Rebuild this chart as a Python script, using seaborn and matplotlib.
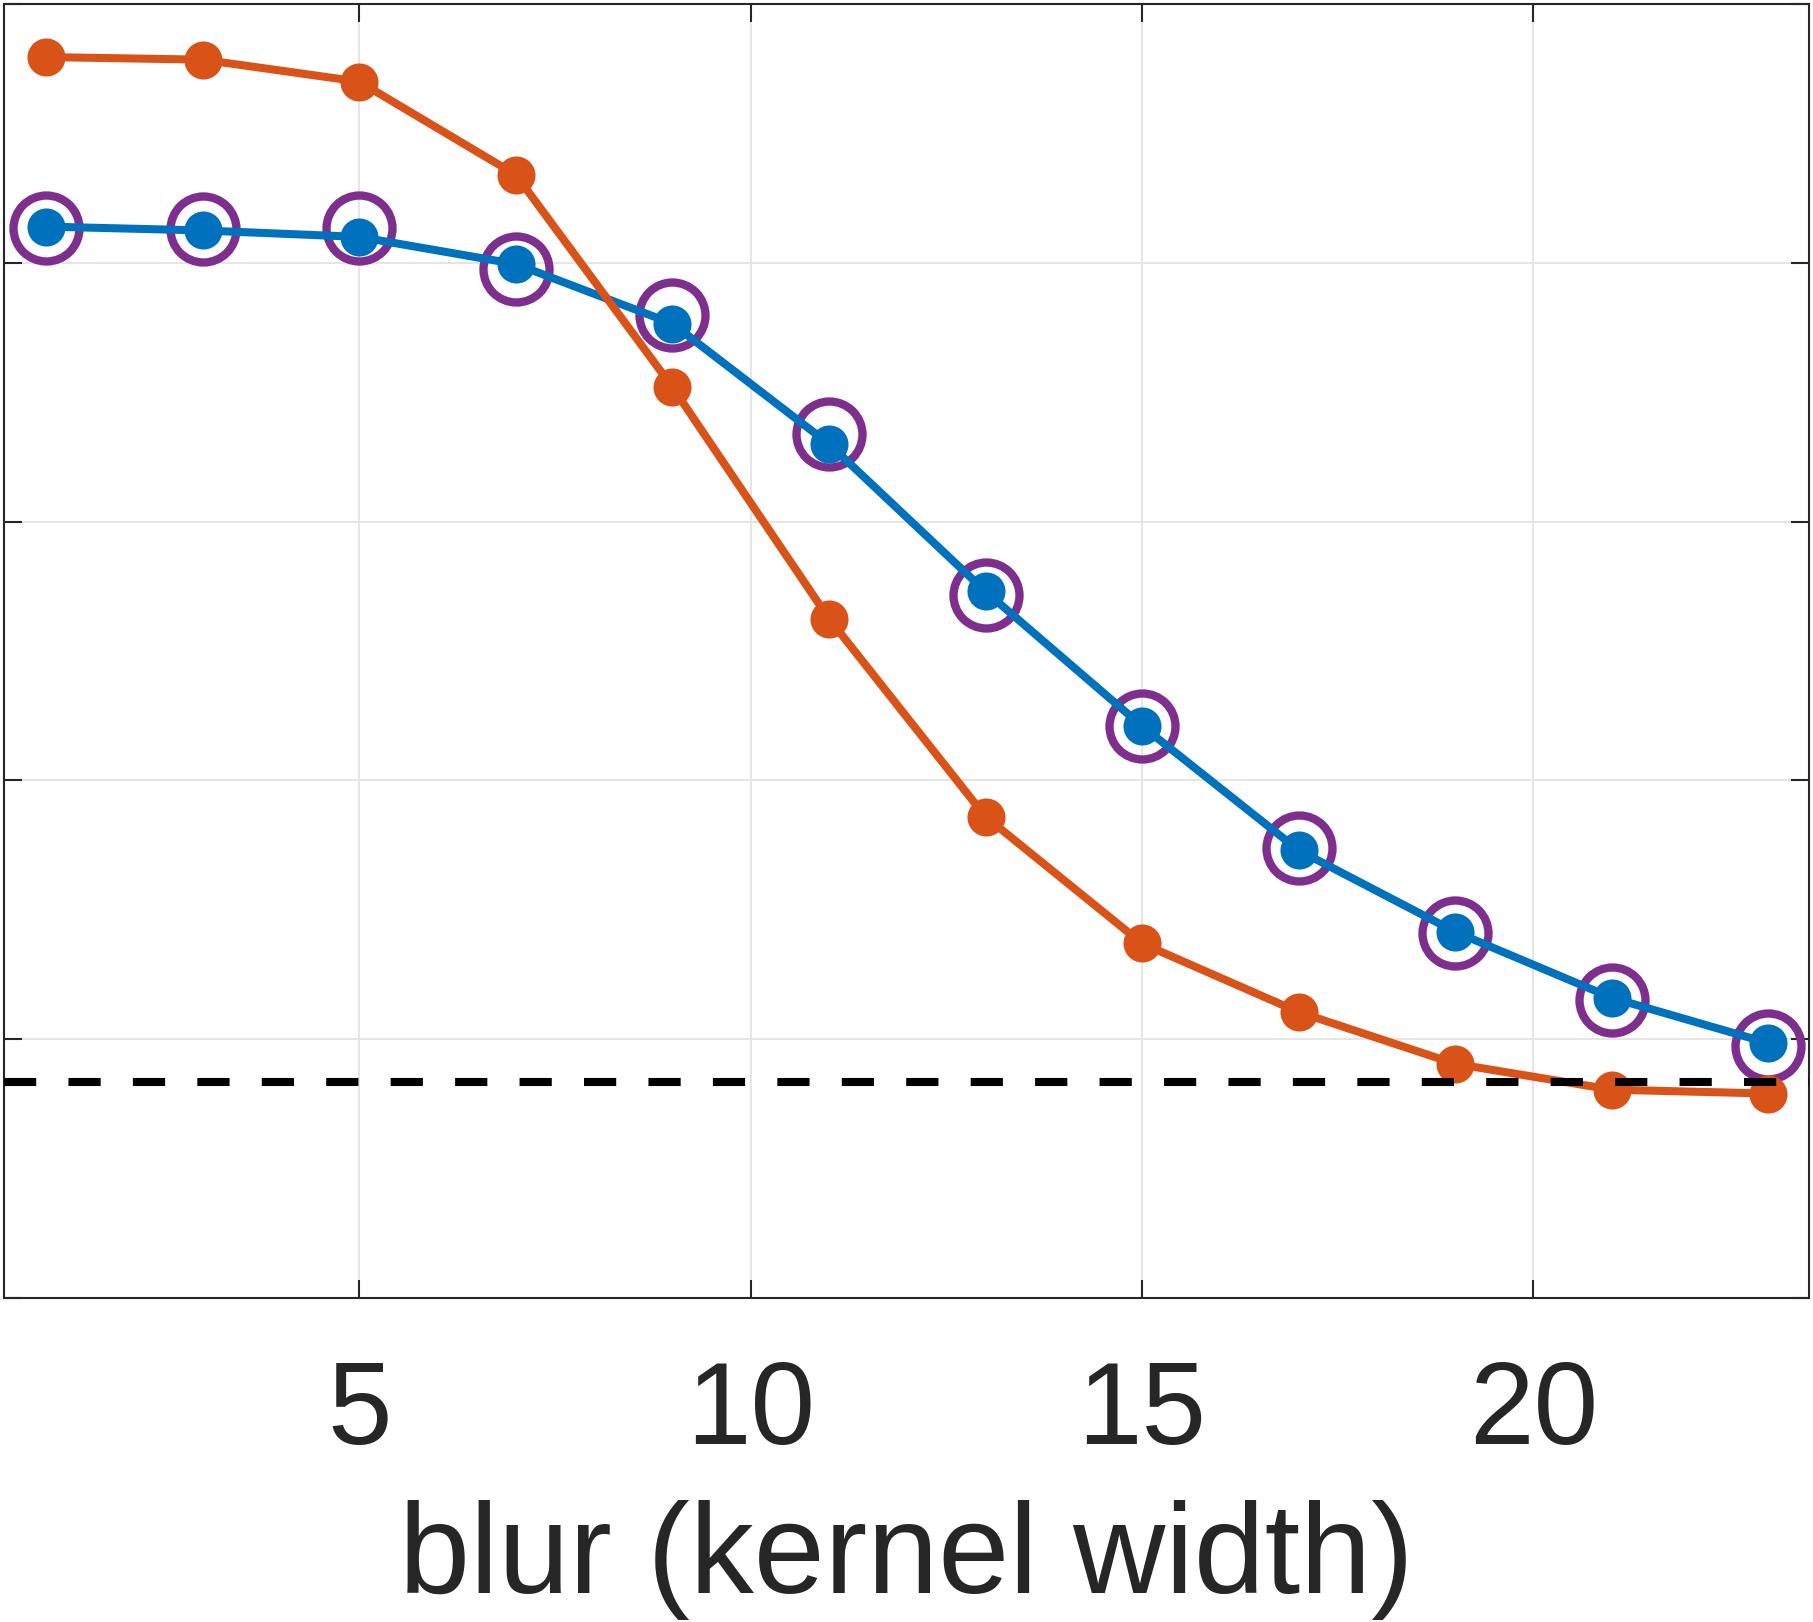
import matplotlib
matplotlib.use("Agg")
import matplotlib.pyplot as plt
import seaborn as sns
import pandas as pd

# values
kernel_width = [1, 3, 5, 7, 9, 11, 13, 15, 17, 19, 21, 23]
orange_acc = [0.959, 0.957, 0.940, 0.868, 0.704, 0.525, 0.372, 0.274, 0.221, 0.181, 0.161, 0.158]
blue_acc = [0.828, 0.825, 0.820, 0.799, 0.753, 0.660, 0.546, 0.442, 0.346, 0.283, 0.232, 0.197]
purple_acc = [0.827, 0.826, 0.827, 0.795, 0.760, 0.668, 0.543, 0.442, 0.348, 0.282, 0.230, 0.195]
chance = 1 / 6
x_ticks = [5, 10, 15, 20]
y_ticks = [0, 0.2, 0.4, 0.6, 0.8, 1.0]

BLUE = "#0072BD"
ORANGE = "#D95319"
PURPLE = "#7E2F8E"
INK = "#262626"

sns.set_style("white")
plt.rcParams["font.family"] = ["Liberation Sans", "DejaVu Sans"]

df = pd.DataFrame({"k": kernel_width, "orange": orange_acc,
                   "blue": blue_acc, "purple": purple_acc})

W, H = 1813, 1622
fig = plt.figure(figsize=(W / 100, H / 100), dpi=100)
ax = fig.add_axes([3.5 / W, (H - 1298) / H, 1805.5 / W, 1294 / H])

# purple rings (bottom layer)
sns.lineplot(data=df, x="k", y="purple", ax=ax, linestyle="none", marker="o",
             markersize=47.5, markerfacecolor="none", markeredgecolor=PURPLE,
             markeredgewidth=6, zorder=3)
# blue line
sns.lineplot(data=df, x="k", y="blue", ax=ax, color=BLUE, linewidth=5.8,
             marker="o", markersize=27.4, markeredgewidth=0, zorder=4)
# orange line
sns.lineplot(data=df, x="k", y="orange", ax=ax, color=ORANGE, linewidth=5.8,
             marker="o", markersize=27.4, markeredgewidth=0, zorder=5)

ax.axhline(chance, color="black", linewidth=5.8, linestyle=(0, (4, 4)), zorder=6)

ax.set_xlim(0.455, 23.52)
ax.set_ylim(0, 1)
ax.set_xticks(x_ticks)
ax.set_yticks(y_ticks)
ax.set_yticklabels([])
ax.grid(True, color="#E3E3E3", linewidth=1.3)
ax.set_axisbelow(True)

for s in ax.spines.values():
    s.set_color(INK)
    s.set_linewidth(1.5)
ax.tick_params(direction="in", length=13, width=1.5, color=INK, top=True, right=True,
               left=True, bottom=True, labelsize=83.5, labelcolor=INK, pad=44)
ax.set_xlabel("blur (kernel width)", fontsize=92, color=INK, labelpad=23)
ax.set_ylabel("")

fig.savefig("out.png", dpi=100)
